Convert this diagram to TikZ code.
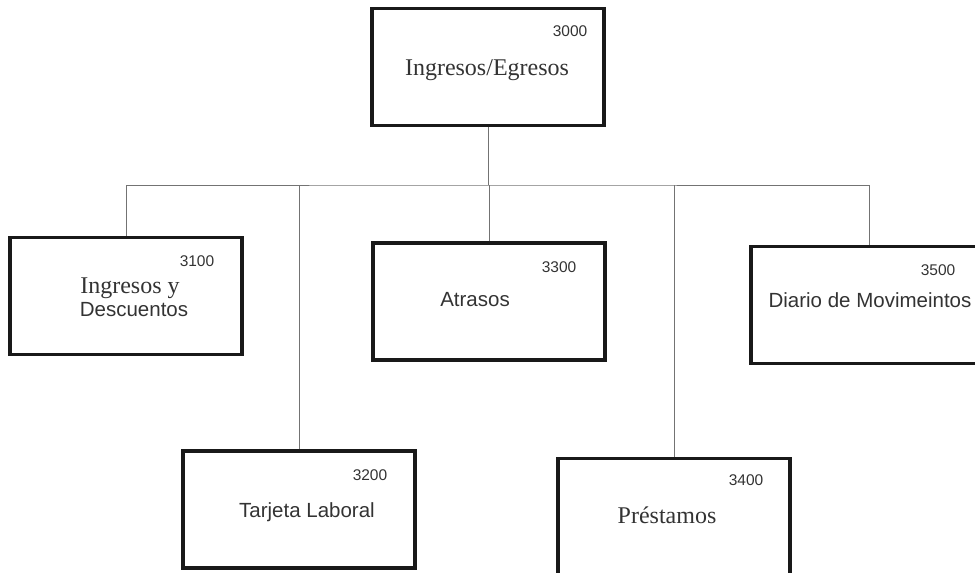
\documentclass[tikz,border=0pt]{standalone}
\usepackage{fontspec}
\setmainfont{Liberation Serif}
\setsansfont{Liberation Sans}
\usetikzlibrary{positioning}

\begin{document}
\begin{tikzpicture}[x=1pt,y=-1pt]
    \tikzset{every node/.style={inner sep=0pt},
            modbox/.style={draw=black!90, line width=3.2pt, rectangle,
                           minimum width=232pt, minimum height=117pt},
            serif/.style={font=\fontsize{24}{26}\selectfont, text=black!80},
            sans/.style={font=\sffamily\fontsize{20.5}{23}\selectfont, text=black!80},
            code/.style={font=\sffamily\fontsize{15.5}{17}\selectfont, text=black!80},
            conn/.style={draw=black!55, line width=0.9pt}}
    \useasboundingbox (0,0) rectangle (975,573);
    \clip (0,0) rectangle (975,573);
    % boxes
    \node[modbox] (top) at (488,67) {};
    \node[modbox] (b3100) at (126,296) {};
    \node[modbox] (b3200) at (299,509.5) {};
    \node[modbox] (b3300) at (489,301.5) {};
    \node[modbox] (b3400) at (674,517) {};
    \node[modbox, minimum width=236pt] (b3500) at (869,305) {};
    % texts
    \node[serif] (ttop) at (487,70) {Ingresos/Egresos};
    \node[serif, anchor=base] (t3100a) at (130,293) {Ingresos y};
    \node[sans, anchor=base] (t3100b) at (134,316) {Descuentos};
    \node[sans] (t3200) at (307,512) {Tarjeta Laboral};
    \node[sans] (t3300) at (475,300) {Atrasos};
    \node[serif] (t3400) at (667,515) {Préstamos};
    \node[sans] (t3500) at (870,300) {Diario de Movimeintos};
    % codes
    \node[code] (ctop) at (570,31) {3000};
    \node[code] (c3100) at (197,261) {3100};
    \node[code] (c3200) at (370,475) {3200};
    \node[code] (c3300) at (559,267) {3300};
    \node[code] (c3400) at (746,480) {3400};
    \node[code] (c3500) at (938,270) {3500};
    % connectors
    \coordinate (bus) at (488,185);
    \draw[conn] (top.south) -- (bus);
    \draw[conn] (b3100.north) |- (bus) -| (b3500.north);
    \foreach \b in {b3200,b3300,b3400}
        \draw[conn] (\b.north) -- (\b.north |- bus);
\end{tikzpicture}
\end{document}
